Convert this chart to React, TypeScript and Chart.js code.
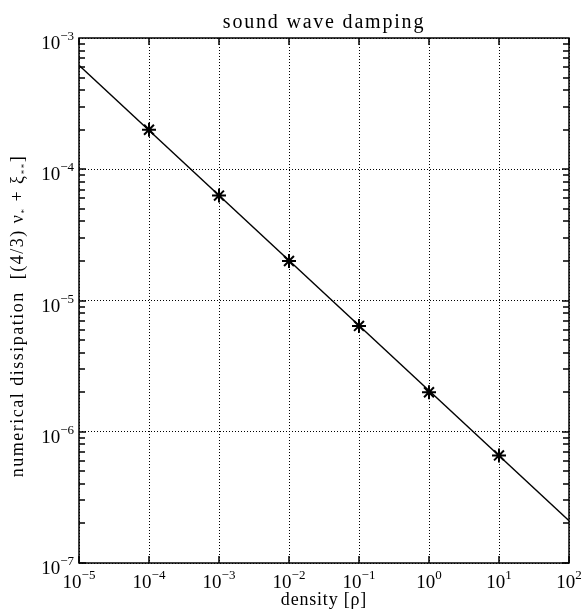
import React, { useEffect, useRef } from "react";
import { Chart, registerables } from "chart.js";
Chart.register(...registerables);

const markerX = [1e-4, 1e-3, 1e-2, 1e-1, 1e0, 1e1];
const markerY = [2.0e-4, 6.3e-5, 2.0e-5, 6.4e-6, 2.0e-6, 6.6e-7];
const lineX = [1e-5, 1e2];
const lineY = [6.2e-4, 2.1e-7];
const xExps = [-5, -4, -3, -2, -1, 0, 1, 2];
const yExps = [-7, -6, -5, -4, -3];
const titleText = "sound wave damping";
const xTitle = "density [ρ]";

const SERIF = "'Liberation Serif', 'DejaVu Serif', serif";

const decorPlugin = {
  id: "decor",
  afterDraw(chart: any) {
    const ctx = chart.ctx;
    const a = chart.chartArea;
    const xs = chart.scales.x;
    const ys = chart.scales.y;
    ctx.save();
    ctx.setLineDash([]);
    ctx.strokeStyle = "#000";
    ctx.fillStyle = "#000";
    ctx.lineWidth = 1.5;
    // box
    ctx.strokeRect(Math.round(a.left), Math.round(a.top), Math.round(a.right - a.left), Math.round(a.bottom - a.top));
    // y ticks
    ctx.beginPath();
    for (let e = yExps[0]; e < yExps[yExps.length - 1]; e++) {
      for (let m = 1; m <= 9; m++) {
        const v = m * Math.pow(10, e);
        const py = Math.round(ys.getPixelForValue(v));
        const len = m === 1 ? 7 : 6;
        ctx.moveTo(a.left, py);
        ctx.lineTo(a.left + len, py);
        ctx.moveTo(a.right, py);
        ctx.lineTo(a.right - len, py);
      }
    }
    // x major ticks
    for (const e of xExps) {
      const px = Math.round(xs.getPixelForValue(Math.pow(10, e)));
      ctx.moveTo(px, a.bottom);
      ctx.lineTo(px, a.bottom - 7);
      ctx.moveTo(px, a.top);
      ctx.lineTo(px, a.top + 7);
    }
    ctx.stroke();

    // tick labels
    const drawPow = (e: number, x: number, y: number, align: string) => {
      const base = "10";
      const exp = e < 0 ? "−" + Math.abs(e) : String(e);
      ctx.font = `19px ${SERIF}`;
      const bw = ctx.measureText(base).width;
      ctx.font = `13px ${SERIF}`;
      const ew = ctx.measureText(exp).width;
      const total = bw + ew;
      let sx = x;
      if (align === "center") sx = x - total / 2;
      else if (align === "right") sx = x - total;
      ctx.textAlign = "left";
      ctx.textBaseline = "alphabetic";
      ctx.font = `19px ${SERIF}`;
      ctx.fillText(base, sx, y);
      ctx.font = `13px ${SERIF}`;
      ctx.fillText(exp, sx + bw, y - 9);
    };
    for (const e of xExps) {
      const px = xs.getPixelForValue(Math.pow(10, e));
      drawPow(e, px, a.bottom + 25, "center");
    }
    for (const e of yExps) {
      const py = ys.getPixelForValue(Math.pow(10, e));
      drawPow(e, a.left - 5, py + 11, "right");
    }

    // title
    ctx.textAlign = "center";
    ctx.textBaseline = "alphabetic";
    const cx = (a.left + a.right) / 2;
    ctx.font = `20px ${SERIF}`;
    (ctx as any).letterSpacing = "1.8px";
    ctx.fillText(titleText, cx, 28);
    // x title
    ctx.font = `18px ${SERIF}`;
    (ctx as any).letterSpacing = "0.8px";
    ctx.fillText(xTitle, cx, 605);

    // y title with subscripts
    ctx.translate(23, 316);
    ctx.rotate(-Math.PI / 2);
    const parts: [string, boolean][] = [
      ["numerical dissipation  [(4/3) ν", false],
      ["*", true],
      [" + ξ", false],
      ["**", true],
      ["]", false],
    ];
    (ctx as any).letterSpacing = "1.5px";
    let w = 0;
    for (const [t, sub] of parts) {
      ctx.font = sub ? `9px ${SERIF}` : `18px ${SERIF}`;
      w += ctx.measureText(t).width;
    }
    let x = -w / 2;
    ctx.textAlign = "left";
    for (const [t, sub] of parts) {
      ctx.font = sub ? `9px ${SERIF}` : `18px ${SERIF}`;
      ctx.fillText(t, x, sub ? 4 : 0);
      x += ctx.measureText(t).width;
    }
    ctx.restore();
  },
};

export default function App() {
  const ref = useRef<HTMLCanvasElement>(null);
  useEffect(() => {
    if (!ref.current) return;
    const chart = new Chart(ref.current, {
      type: "scatter",
      data: {
        datasets: [
          {
            type: "line",
            data: lineX.map((x, i) => ({ x, y: lineY[i] })),
            borderColor: "#000",
            borderWidth: 1.3,
            pointRadius: 0,
            showLine: true,
            fill: false,
          } as any,
          {
            data: markerX.map((x, i) => ({ x, y: markerY[i] })),
            pointStyle: "star",
            pointRadius: 7,
            borderColor: "#000",
            backgroundColor: "#000",
            pointBorderWidth: 2,
            showLine: false,
          } as any,
        ],
      },
      options: {
        responsive: false,
        animation: false,
        devicePixelRatio: 1,
        layout: { padding: { left: 79, top: 38, right: 13, bottom: 51 } },
        plugins: { legend: { display: false }, tooltip: { enabled: false }, title: { display: false } },
        scales: {
          x: {
            type: "logarithmic",
            min: 1e-5,
            max: 1e2,
            afterBuildTicks: (s: any) => {
              s.ticks = xExps.map((e) => ({ value: Math.pow(10, e) }));
            },
            ticks: { display: false },
            grid: { color: "#000", lineWidth: 1, drawTicks: false },
            border: { display: false, dash: [1, 2] },
          },
          y: {
            type: "logarithmic",
            min: 1e-7,
            max: 1e-3,
            afterBuildTicks: (s: any) => {
              s.ticks = yExps.map((e) => ({ value: Math.pow(10, e) }));
            },
            ticks: { display: false },
            grid: { color: "#000", lineWidth: 1, drawTicks: false },
            border: { display: false, dash: [1, 2] },
          },
        },
      } as any,
      plugins: [decorPlugin],
    });
    return () => chart.destroy();
  }, []);
  return (
    <div style={{ position: "fixed", left: 0, top: 0, width: 582, height: 614, background: "#fff" }}>
      <canvas ref={ref} width={582} height={614} style={{ display: "block" }} />
    </div>
  );
}
